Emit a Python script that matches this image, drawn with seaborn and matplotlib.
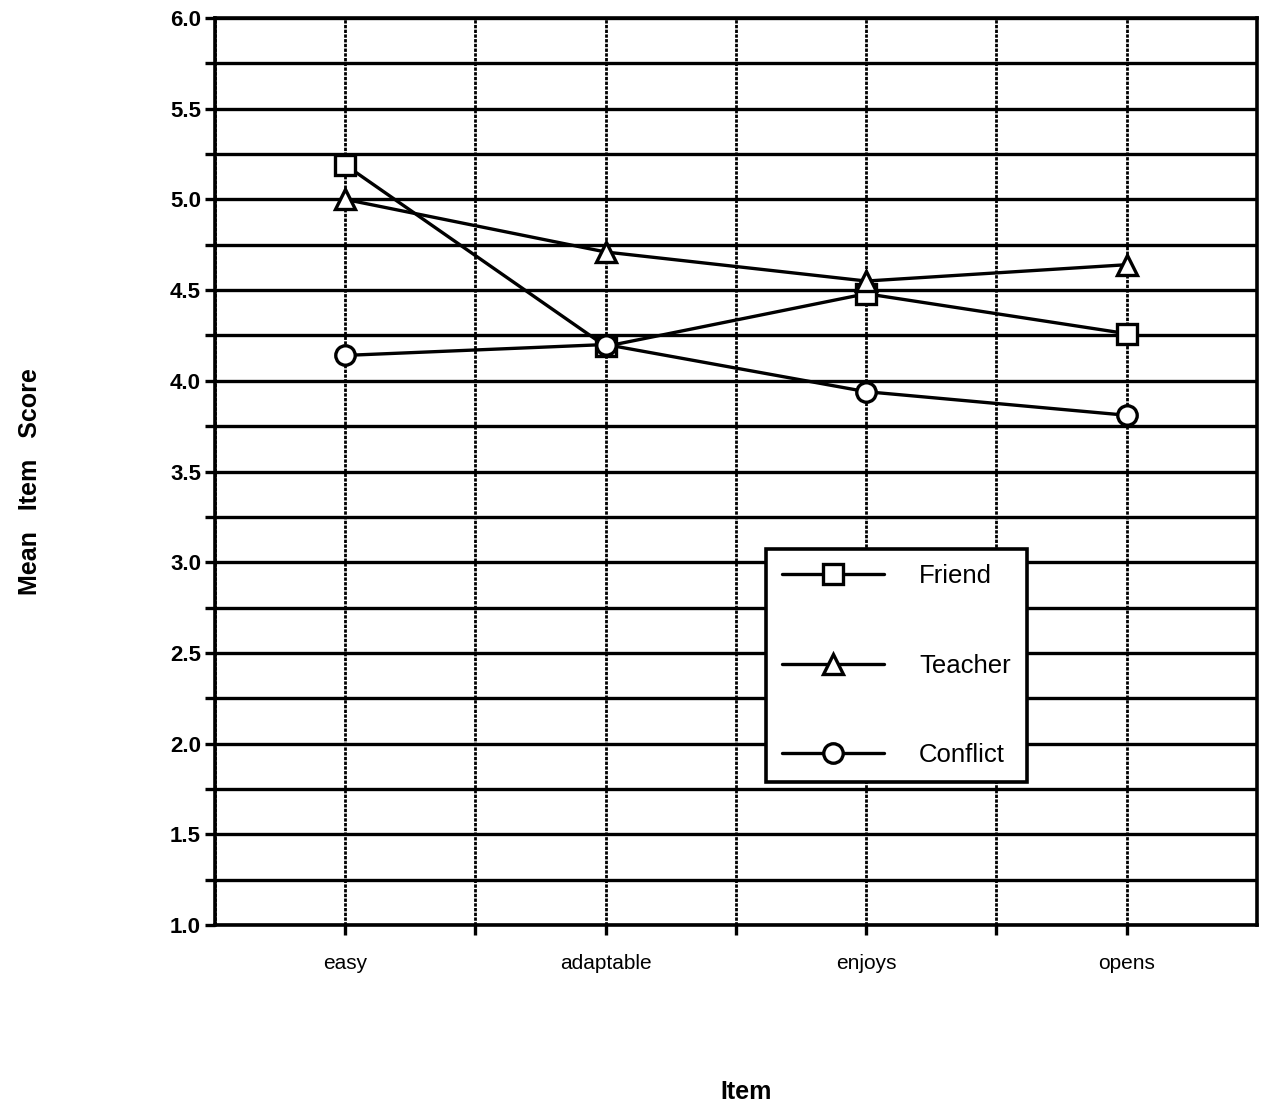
import matplotlib
matplotlib.use("Agg")
import matplotlib.pyplot as plt
import seaborn as sns
import pandas as pd
import numpy as np
from matplotlib.lines import Line2D

items = ["easy", "adaptable", "enjoys", "opens"]
friend = [5.19, 4.19, 4.48, 4.26]
teacher = [5.00, 4.71, 4.55, 4.64]
conflict = [4.14, 4.20, 3.94, 3.81]
series_names = ["Friend", "Teacher", "Conflict"]
y_ticks = [1.0, 1.5, 2.0, 2.5, 3.0, 3.5, 4.0, 4.5, 5.0, 5.5, 6.0]

sns.set_theme(style="white")
plt.rcParams['font.family'] = ['Liberation Sans', 'DejaVu Sans']
plt.rcParams['text.color'] = 'black'

df = pd.DataFrame({
    "Item": items * 3,
    "Score": friend + teacher + conflict,
    "Series": [s for s in series_names for _ in items],
})
df["x"] = df["Item"].map({k: i for i, k in enumerate(items)})

fig = plt.figure(figsize=(12.61, 11.05), dpi=100)
ax = fig.add_axes([0.1705, 0.1629, 0.8263, 0.8208])

# grid
for yv in np.arange(1.0, 6.01, 0.25):
    ax.axhline(yv, color="black", lw=2.4, zorder=1)
for xv in np.arange(-0.5, 3.51, 0.5):
    ax.axvline(xv, color="black", lw=2.0, ls=(0, (1.2, 0.5)), zorder=1)

markers = {"Friend": "s", "Teacher": "^", "Conflict": "o"}
sns.lineplot(data=df, x="x", y="Score", style="Series", markers=markers,
             dashes=False, color="black", linewidth=2.4, markersize=14,
             markerfacecolor="white", markeredgecolor="black", markeredgewidth=2.4,
             ax=ax, zorder=3, legend=False, sort=False)

ax.set_xlim(-0.5, 3.5)
ax.set_ylim(1.0, 6.0)
ax.set_yticks(y_ticks)
ax.set_yticklabels([f"{v:.1f}" for v in y_ticks], fontsize=16, fontweight="bold")
ax.set_yticks(np.arange(1.25, 6.0, 0.5), minor=True)
ax.set_xticks(range(len(items)))
ax.set_xticklabels(items, fontsize=15, fontstretch="condensed")
ax.set_xticks([0.5, 1.5, 2.5], minor=True)
ax.tick_params(axis="y", which="both", direction="out", length=7, width=2.4, left=True, pad=3, colors="black")
ax.tick_params(axis="x", which="both", direction="out", length=7, width=2.4, bottom=True, pad=14, colors="black")
for s in ax.spines.values():
    s.set_visible(True)
    s.set_color("black")
    s.set_linewidth(2.6)

ax.set_xlabel("")
ax.set_ylabel("")
fig.text(746 / 1261, 1 - 1092 / 1105, "Item", fontsize=18, fontweight="bold",
         ha="center", va="center", color="black")
fig.text(30 / 1261, 1 - 482 / 1105, "Mean   Item   Score", fontsize=18,
         fontweight="bold", ha="center", va="center", rotation=90, color="black")

handles = [Line2D([], [], color="black", lw=2.4, marker=markers[s], markersize=14,
                  markerfacecolor="white", markeredgecolor="black", markeredgewidth=2.4)
           for s in series_names]
leg = ax.legend(handles, series_names, loc="upper left",
                bbox_to_anchor=(0.529, 0.415, 0.25, 0.0), mode="expand",
                fontsize=18.5, frameon=True, fancybox=False, edgecolor="black",
                framealpha=1, handlelength=4.0, handletextpad=1.35,
                labelspacing=2.55, borderpad=0.6, borderaxespad=0,
                labelcolor="black")
leg.get_frame().set_linewidth(2.6)
leg.set_zorder(5)

fig.savefig("out.png", dpi=100, facecolor="white")
